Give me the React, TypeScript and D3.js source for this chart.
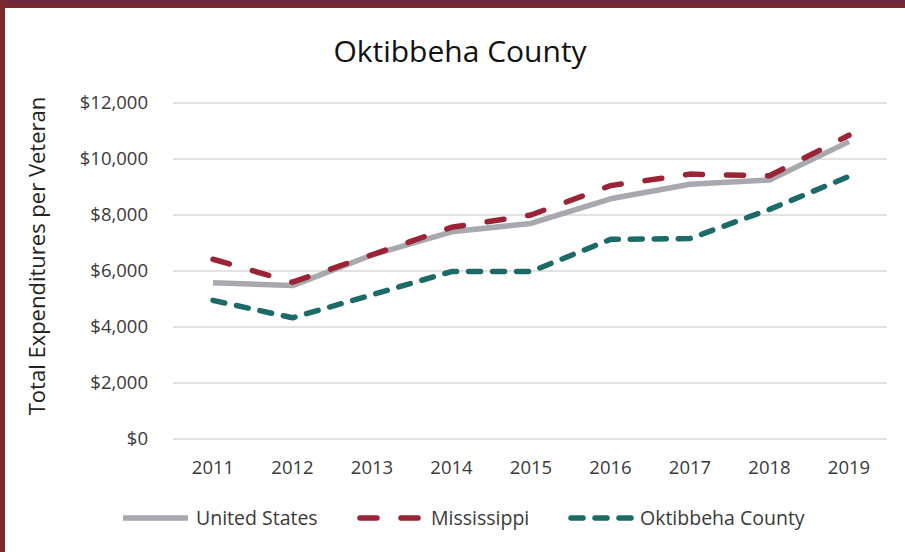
import * as d3 from "d3";

const years = ["2011", "2012", "2013", "2014", "2015", "2016", "2017", "2018", "2019"];
const unitedStates = [5580, 5480, 6570, 7400, 7700, 8580, 9100, 9250, 10620];
const mississippi = [6420, 5600, 6580, 7560, 8000, 9050, 9460, 9400, 10850];
const oktibbeha = [4950, 4330, 5150, 5980, 5980, 7130, 7160, 8200, 9380];
const yTicks = [0, 2000, 4000, 6000, 8000, 10000, 12000];

const W = 905;
const H = 552;
const FONT = "'Open Sans', sans-serif";
const TEXT = "#3a3a3a";

const series = [
  { name: "United States", values: unitedStates, color: "#a7a9ae", dash: "", cap: "butt" },
  { name: "Mississippi", values: mississippi, color: "#9b2335", dash: "17,24", cap: "round" },
  { name: "Oktibbeha County", values: oktibbeha, color: "#1d6b68", dash: "12,12", cap: "round" },
];

export default function App() {
  const x = d3.scalePoint<string>().domain(years).range([213, 849]);
  const y = d3.scaleLinear().domain([0, 12000]).range([439, 103]);
  const fmt = d3.format("$,");

  const line = d3
    .line<number>()
    .x((_, i) => x(years[i])!)
    .y(d => y(d));

  // legend layout
  const legend = [
    { x1: 123, x2: 188, tx: 196 },
    { x1: 360, x2: 420, tx: 431 },
    { x1: 571, x2: 632, tx: 640 },
  ];

  return (
    <svg
      width={W}
      height={H}
      style={{ position: "absolute", left: 0, top: 0, background: "#fff" }}
      fontFamily={FONT}
    >
      {/* frame */}
      <rect x={0} y={0} width={W} height={4} fill="#6e2940" />
      <rect x={0} y={4} width={W} height={4} fill="#7a2a2a" />
      <rect x={0} y={0} width={5} height={H} fill="#7a2a2a" />

      <text x={460} y={62} textAnchor="middle" fontSize={30} fill="#111">
        Oktibbeha County
      </text>

      {/* grid */}
      {yTicks.map(t => (
        <g key={t}>
          <line x1={173} x2={887} y1={y(t)} y2={y(t)} stroke="#d9d9d9" strokeWidth={1.5} />
          <text x={148} y={y(t)} dy="0.35em" textAnchor="end" fontSize={18.5} fill={TEXT}>
            {fmt(t)}
          </text>
        </g>
      ))}

      {years.map(yr => (
        <text key={yr} x={x(yr)} y={474} textAnchor="middle" fontSize={18.5} fill={TEXT}>
          {yr}
        </text>
      ))}

      <text
        transform={`translate(45,256) rotate(-90)`}
        textAnchor="middle"
        fontSize={22}
        fill="#222"
      >
        Total Expenditures per Veteran
      </text>

      {series.map(s => (
        <path
          key={s.name}
          d={line(s.values) ?? ""}
          fill="none"
          stroke={s.color}
          strokeWidth={5.5}
          strokeDasharray={s.dash || undefined}
          strokeLinecap={s.cap as any}
          strokeLinejoin="round"
        />
      ))}

      {series.map((s, i) => (
        <g key={s.name}>
          <line
            x1={legend[i].x1}
            x2={legend[i].x2}
            y1={518}
            y2={518}
            stroke={s.color}
            strokeWidth={5.5}
            strokeDasharray={s.dash || undefined}
            strokeLinecap={s.cap as any}
          />
          <text x={legend[i].tx} y={518} dy="0.35em" fontSize={19.5} fill={TEXT}>
            {s.name}
          </text>
        </g>
      ))}
    </svg>
  );
}
